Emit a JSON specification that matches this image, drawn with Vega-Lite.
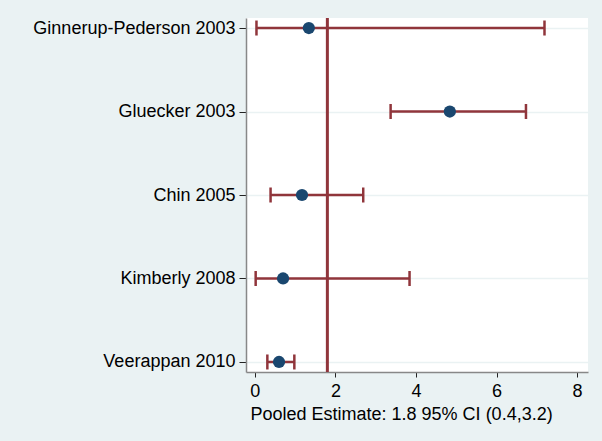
{
  "$schema": "https://vega.github.io/schema/vega-lite/v6.json",
  "width": 342,
  "height": 354,
  "autosize": "none",
  "padding": {"left": 246, "top": 18, "right": 14, "bottom": 69},
  "background": "#eaf2f3",
  "config": {
    "view": {"fill": "white", "stroke": null},
    "font": "Liberation Sans"
  },
  "datasets": {
    "studies": [
      {"study": "Ginnerup-Pederson 2003", "estimate": 1.34, "low": 0.04, "high": 7.19},
      {"study": "Gluecker 2003", "estimate": 4.84, "low": 3.37, "high": 6.73},
      {"study": "Chin 2005", "estimate": 1.17, "low": 0.39, "high": 2.69},
      {"study": "Kimberly 2008", "estimate": 0.70, "low": 0.02, "high": 3.84},
      {"study": "Veerappan 2010", "estimate": 0.60, "low": 0.31, "high": 0.98}
    ],
    "pooled": [{"pooled": 1.8}]
  },
  "layer": [
    {
      "data": {"name": "studies"},
      "mark": {"type": "rule", "color": "#90353b", "strokeWidth": 2.5},
      "encoding": {
        "y": {
          "field": "study", "type": "nominal", "sort": null,
          "scale": {"type": "point", "padding": 0.12},
          "axis": {
            "title": null, "labelFontSize": 18, "labelColor": "#000000", "labelLimit": 400,
            "tickSize": 7, "tickColor": "#222222", "labelPadding": 4,
            "domainColor": "#888888", "domainWidth": 1.5,
            "grid": true, "gridColor": "#eaf2f3", "gridWidth": 1.5
          }
        },
        "x": {
          "field": "low", "type": "quantitative",
          "scale": {"domain": [-0.22, 8.27], "nice": false, "zero": false},
          "axis": {
            "title": "Pooled Estimate: 1.8 95% CI (0.4,3.2)",
            "titleFontSize": 18, "titleFontWeight": "normal", "titleColor": "#000000",
            "titleAnchor": "start", "titleX": 4, "titlePadding": 5,
            "values": [0, 2, 4, 6, 8], "labelFontSize": 18, "labelColor": "#000000",
            "tickSize": 5, "tickColor": "#222222", "labelPadding": 5,
            "domainColor": "#888888", "domainWidth": 1.5, "grid": false
          }
        },
        "x2": {"field": "high"}
      }
    },
    {
      "data": {"name": "studies"},
      "mark": {"type": "tick", "color": "#90353b", "size": 15, "thickness": 2.5, "opacity": 1},
      "encoding": {
        "y": {"field": "study", "type": "nominal", "sort": null},
        "x": {"field": "low", "type": "quantitative"}
      }
    },
    {
      "data": {"name": "studies"},
      "mark": {"type": "tick", "color": "#90353b", "size": 15, "thickness": 2.5, "opacity": 1},
      "encoding": {
        "y": {"field": "study", "type": "nominal", "sort": null},
        "x": {"field": "high", "type": "quantitative"}
      }
    },
    {
      "data": {"name": "pooled"},
      "mark": {"type": "rule", "color": "#90353b", "strokeWidth": 3},
      "encoding": {
        "x": {"field": "pooled", "type": "quantitative"}
      }
    },
    {
      "data": {"name": "studies"},
      "mark": {"type": "circle", "color": "#1a476f", "size": 150, "opacity": 1},
      "encoding": {
        "y": {"field": "study", "type": "nominal", "sort": null},
        "x": {"field": "estimate", "type": "quantitative"}
      }
    }
  ]
}
